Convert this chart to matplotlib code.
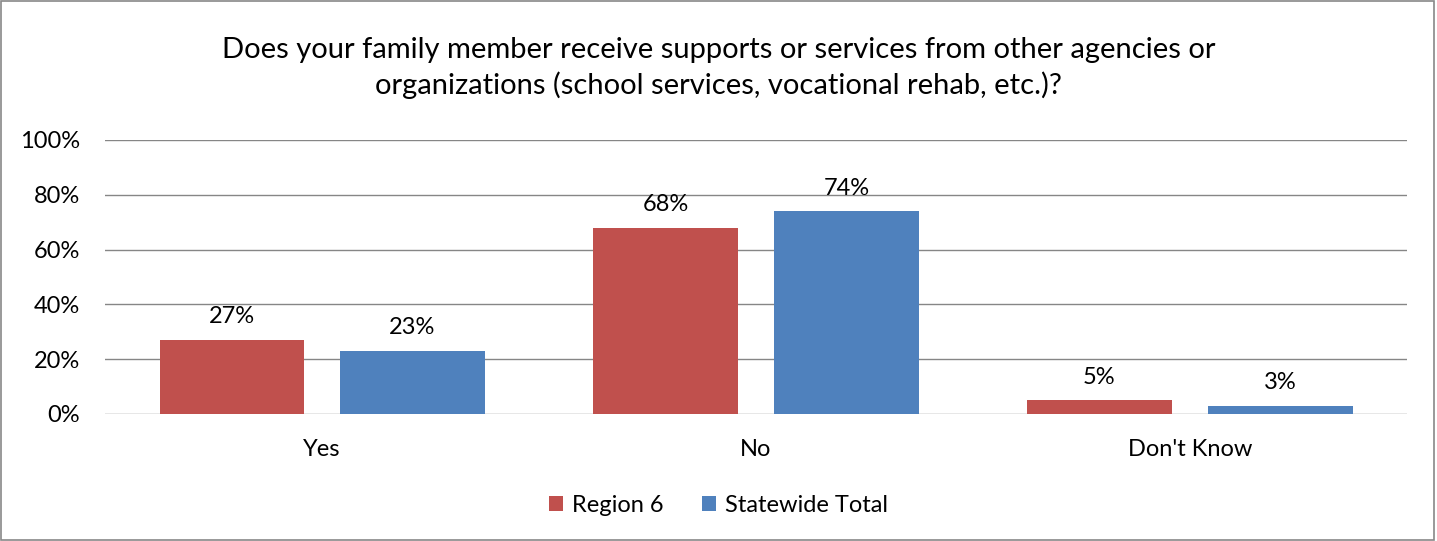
import matplotlib.pyplot as plt
import numpy as np

plt.rcParams['font.family'] = ['Lato', 'DejaVu Sans']

categories = ['Yes', 'No', "Don't Know"]
region6 = [27, 68, 5]
statewide = [23, 74, 3]
series_names = ['Region 6', 'Statewide Total']
yticks = [0, 20, 40, 60, 80, 100]

fig = plt.figure(figsize=(14.37, 5.41), dpi=100)
ax = fig.add_axes([0.0731, 0.2348, 0.906, 0.5065])

x = np.arange(len(categories))
w = 0.332
off = 0.2085
b1 = ax.bar(x - off, region6, w, color='#C0504D', label=series_names[0], zorder=3)
b2 = ax.bar(x + off, statewide, w, color='#4F81BD', label=series_names[1], zorder=3)

# подписи значений над столбцами
for bars, vals in ((b1, region6), (b2, statewide)):
    for rect, v in zip(bars, vals):
        ax.annotate(f'{v}%', (rect.get_x() + rect.get_width() / 2, v),
                    xytext=(0, 9), textcoords='offset points',
                    ha='center', va='bottom', fontsize=17)

ax.set_xlim(-0.5, 2.5)
ax.set_ylim(0, 100)
ax.set_yticks(yticks)
ax.set_yticklabels([f'{t}%' for t in yticks], fontsize=17)
ax.set_xticks(x)
ax.set_xticklabels(categories, fontsize=17)
ax.tick_params(axis='both', length=0)
ax.tick_params(axis='y', pad=18)
ax.tick_params(axis='x', pad=18)
ax.grid(axis='y', color='#868686', linewidth=1, zorder=0)
for s in ax.spines.values():
    s.set_visible(False)

fig.text(0.5, 0.874, 'Does your family member receive supports or services from other agencies or\n'
         'organizations (school services, vocational rehab, etc.)?',
         ha='center', va='center', fontsize=21, linespacing=1.35)

fig.legend(handles=[b1, b2], loc='center', bbox_to_anchor=(0.5, 0.066), ncol=2,
           frameon=False, fontsize=17, handlelength=0.6, handleheight=0.6,
           handletextpad=0.4, columnspacing=1.6)

# рамка вокруг всей диаграммы
fig.patches.append(plt.Rectangle((0.001, 0.002), 0.997, 0.996, transform=fig.transFigure,
                                 fill=False, edgecolor='#888888', linewidth=1.2))

fig.savefig('out.png', dpi=100)
